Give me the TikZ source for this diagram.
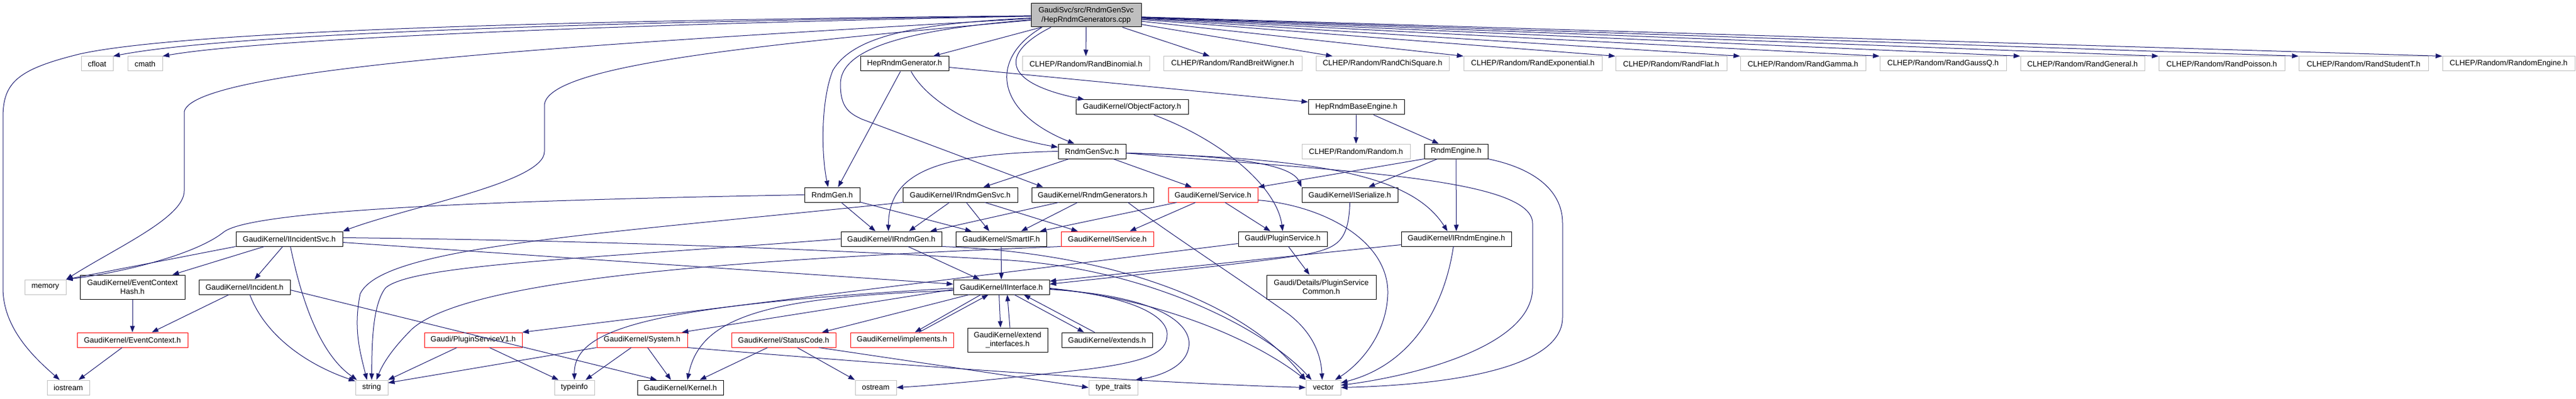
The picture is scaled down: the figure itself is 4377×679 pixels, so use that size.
\documentclass[tikz,border=0pt]{standalone}
\usepackage{fontspec}
\setmainfont{Liberation Sans}
\usetikzlibrary{arrows.meta}
\definecolor{edgeblue}{HTML}{191970}
\definecolor{lgray}{HTML}{BFBFBF}
\definecolor{bred}{HTML}{FF0000}
\begin{document}
\begin{tikzpicture}[x=1pt,y=-1pt,
  every node/.style={font=\fontsize{13}{15.3}\selectfont},
  nb/.style={draw=black, line width=1pt, minimum height=25pt, inner sep=0pt, align=center, fill=white},
  gb/.style={nb, draw=lgray},
  rb/.style={nb, draw=bred},
  tall/.style={minimum height=41pt},
  wd/.style={minimum width=#1},
  edge/.style={draw=edgeblue, line width=1pt, -{Triangle[length=11pt,width=8pt]}},
]
\fill[white] (0,0) rectangle (4377,679);
\useasboundingbox (0,0) rectangle (4377,679);

% ---------- nodes ----------
\node[nb, wd=187pt, minimum height=40pt, fill=lgray] (root) at (1845.5,26) {GaudiSvc/src/RndmGenSvc\\/HepRndmGenerators.cpp};
% row 1
\node[gb, wd=54pt] (cfloat) at (165,108.5) {cfloat};
\node[gb, wd=59pt] (cmath) at (246.5,108.5) {cmath};
\node[nb, wd=150pt] (HRG) at (1537,108.5) {HepRndmGenerator.h};
\node[gb, wd=216pt] (RBin) at (1845,108.5) {CLHEP/Random/RandBinomial.h};
\node[gb, wd=235pt] (RBW) at (2094.5,108.5) {CLHEP/Random/RandBreitWigner.h};
\node[gb, wd=226pt] (RChi) at (2349,108.5) {CLHEP/Random/RandChiSquare.h};
\node[gb, wd=235pt] (RExp) at (2604.5,108.5) {CLHEP/Random/RandExponential.h};
\node[gb, wd=189pt] (RFlat) at (2839.5,108.5) {CLHEP/Random/RandFlat.h};
\node[gb, wd=213pt] (RGam) at (3063.5,108.5) {CLHEP/Random/RandGamma.h};
\node[gb, wd=215pt] (RGQ) at (3301.5,108.5) {CLHEP/Random/RandGaussQ.h};
\node[gb, wd=211pt] (RGen) at (3538.5,108.5) {CLHEP/Random/RandGeneral.h};
\node[gb, wd=214pt] (RPoi) at (3775,108.5) {CLHEP/Random/RandPoisson.h};
\node[gb, wd=220pt] (RStu) at (4016,108.5) {CLHEP/Random/RandStudentT.h};
\node[gb, wd=225pt] (REng) at (4262.5,108.5) {CLHEP/Random/RandomEngine.h};
% row 2
\node[nb, wd=191pt] (OF) at (1923.5,182.5) {GaudiKernel/ObjectFactory.h};
\node[nb, wd=163pt] (HRBE) at (2304.5,182.5) {HepRndmBaseEngine.h};
% row 3
\node[nb, wd=115pt] (RGS) at (1855.5,257.5) {RndmGenSvc.h};
\node[gb, wd=184pt] (Random) at (2304,257.5) {CLHEP/Random/Random.h};
\node[nb, wd=108pt] (RE) at (2474,257.5) {RndmEngine.h};
% row 4
\node[nb, wd=94pt] (RG) at (1414,331.5) {RndmGen.h};
\node[nb, wd=195pt] (IRGS) at (1631.5,331.5) {GaudiKernel/IRndmGenSvc.h};
\node[nb, wd=207pt] (RGens) at (1856.5,331.5) {GaudiKernel/RndmGenerators.h};
\node[rb, wd=152pt] (Svc) at (2061,331.5) {GaudiKernel/Service.h};
\node[nb, wd=163pt] (ISer) at (2293.5,331.5) {GaudiKernel/ISerialize.h};
% row 5
\node[nb, wd=181pt] (IIS) at (491.5,406.5) {GaudiKernel/IIncidentSvc.h};
\node[nb, wd=171pt] (IRG) at (1514.5,406.5) {GaudiKernel/IRndmGen.h};
\node[nb, wd=154pt] (SIF) at (1701,406.5) {GaudiKernel/SmartIF.h};
\node[rb, wd=157pt] (ISvc) at (1881.5,406.5) {GaudiKernel/IService.h};
\node[nb, wd=151pt] (PS) at (2179.5,406.5) {Gaudi/PluginService.h};
\node[nb, wd=187pt] (IRE) at (2474.5,406.5) {GaudiKernel/IRndmEngine.h};
% row 6
\node[gb, wd=70pt] (memory) at (77,488.5) {memory};
\node[nb, wd=178pt, tall] (ECH) at (225,488.5) {GaudiKernel/EventContext\\Hash.h};
\node[nb, wd=155pt] (Inc) at (415.5,488.5) {GaudiKernel/Incident.h};
\node[nb, wd=163pt] (II) at (1701.5,488.5) {GaudiKernel/IInterface.h};
\node[nb, wd=186pt, tall] (PSC) at (2245,488.5) {Gaudi/Details/PluginService\\Common.h};
% row 7
\node[rb, wd=188pt] (EC) at (225,578.5) {GaudiKernel/EventContext.h};
\node[rb, wd=166pt] (PSV1) at (804,578.5) {Gaudi/PluginServiceV1.h};
\node[rb, wd=154pt] (Sys) at (1091,578.5) {GaudiKernel/System.h};
\node[rb, wd=177pt] (SC) at (1331.5,578.5) {GaudiKernel/StatusCode.h};
\node[rb, wd=175pt] (impl) at (1532.5,578.5) {GaudiKernel/implements.h};
\node[nb, wd=136pt, tall] (extif) at (1712,578.5) {GaudiKernel/extend\\\_interfaces.h};
\node[nb, wd=154pt] (ext) at (1881,578.5) {GaudiKernel/extends.h};
% row 8
\node[gb, wd=72pt] (iostream) at (116,659.5) {iostream};
\node[gb, wd=55pt] (string) at (631.5,659.5) {string};
\node[gb, wd=68pt] (typeinfo) at (976,659.5) {typeinfo};
\node[nb, wd=146pt] (Kernel) at (1156,659.5) {GaudiKernel/Kernel.h};
\node[gb, wd=70pt] (ostream) at (1488,659.5) {ostream};
\node[gb, wd=83pt] (typetraits) at (1891.5,659.5) {type\_traits};
\node[gb, wd=59pt] (vector) at (2248.5,659.5) {vector};

% ---------- edges from root ----------
\draw[edge] (root) .. controls (900,35) and (300,55) .. (135,92) .. controls (30,118) and (5,140) .. (5,200) -- (5,490) .. controls (5,560) and (60,610) .. (iostream);
\draw[edge] (root) .. controls (1100,36) and (400,55) .. (cfloat.north east);
\draw[edge] (root) .. controls (1100,40) and (450,65) .. (cmath.north east);
\draw[edge] (root) .. controls (1100,70) and (330,110) .. (313,190) -- (313,325) .. controls (313,370) and (200,420) .. (memory.north east);
\draw[edge] (root) .. controls (1300,75) and (925,110) .. (925,180) -- (925,258) .. controls (925,310) and (700,350) .. (IIS.north east);
\draw[edge] (root) -- (HRG);
\draw[edge] (root) -- (RBin);
\draw[edge] (root) -- (RBW);
\draw[edge] (root) -- ([xshift=-85pt]RChi.north);
\draw[edge] (root) -- (RExp.north west);
\draw[edge] (root) -- (RFlat.north west);
\draw[edge] (root) -- (RGam.north west);
\draw[edge] (root) -- (RGQ.north west);
\draw[edge] (root) -- (RGen.north west);
\draw[edge] (root) -- (RPoi.north west);
\draw[edge] (root) -- (RStu.north west);
\draw[edge] (root) -- (REng.north west);
\draw[edge] ([xshift=-60pt]root.south) .. controls (1700,90) and (1700,140) .. ([xshift=-81pt]OF.north);
\draw[edge] ([xshift=-75pt]root.south) .. controls (1680,100) and (1690,190) .. ([xshift=-30pt]RGS.north);
\draw[edge] (root) .. controls (1560,40) and (1450,60) .. (1415,120) .. controls (1395,170) and (1395,260) .. ([xshift=-7pt]RG.north);
\draw[edge] (root) .. controls (1550,50) and (1428,80) .. (1428,143) .. controls (1428,180) and (1440,192) .. (1465,203) -- ([xshift=-84pt]RGens.north);

% ---------- second level ----------
\draw[edge] (HRG) -- ([xshift=10pt]RG.north);
\draw[edge] ([xshift=11pt]HRG.south) .. controls (1580,180) and (1680,230) .. ([yshift=7pt]RGS.west);
\draw[edge] ([yshift=-6pt]HRG.east) -- ([yshift=9pt]HRBE.west);
\draw[edge] ([xshift=37pt]OF.south) .. controls (2080,240) and (2170,320) .. (PS.north);
\draw[edge] (HRBE) -- (Random);
\draw[edge] (HRBE) -- (RE);
\draw[edge] (RE) -- (ISer);
\draw[edge] (RE) -- (IRE);
\draw[edge] (RE.south west) -- (Svc.north east);
\draw[edge] (RE.south east) .. controls (2600,285) and (2655,320) .. (2655,380) -- (2655,540) .. controls (2655,630) and (2450,655) .. (vector.east);

\draw[edge] (RGS.west) .. controls (1600,262) and (1510,290) .. ([xshift=-5pt]IRG.north);
\draw[edge] (RGS) -- (IRGS);
\draw[edge] (RGS) -- (Svc);
\draw[edge] ([yshift=-3pt]RGS.east) .. controls (2100,265) and (2195,280) .. (ISer.north west);
\draw[edge] ([yshift=-3pt]RGS.east) .. controls (2250,270) and (2400,300) .. ([xshift=-15pt]IRE.north);
\draw[edge] ([yshift=-3pt]RGS.east) .. controls (2250,290) and (2604,300) .. (2604,380) -- (2604,490) .. controls (2604,590) and (2400,640) .. ([yshift=4pt]vector.east);

\draw[edge] (RG.west) .. controls (900,340) and (430,355) .. (380,395) .. controls (330,435) and (200,465) .. (memory.north east);
\draw[edge] (RG) -- ([xshift=-27pt]IRG.north);
\draw[edge] (RG) -- ([xshift=-50pt]SIF.north);
\draw[edge] (IRGS) -- ([xshift=30pt]IRG.north);
\draw[edge] (IRGS) -- ([xshift=-20pt]SIF.north);
\draw[edge] (IRGS) -- ([xshift=-50pt]ISvc.north);
\draw[edge] (IRGS.south west) .. controls (1000,400) and (650,420) .. (612,500) .. controls (600,560) and (612,600) .. ([xshift=-8pt]string.north);
\draw[edge] (RGens) -- ([xshift=66pt]IRG.north);
\draw[edge] (RGens) -- ([xshift=34pt]SIF.north);
\draw[edge] ([xshift=60pt]RGens.south) .. controls (1990,400) and (2100,470) .. (2190,535) .. controls (2235,570) and (2245,610) .. ([xshift=-2pt]vector.north);
\draw[edge] (Svc) -- ([xshift=66pt]SIF.north);
\draw[edge] (Svc) -- ([xshift=38pt]ISvc.north);
\draw[edge] (Svc) -- ([xshift=-21pt]PS.north);
\draw[edge] ([yshift=-9pt]Svc.east) .. controls (2250,350) and (2360,410) .. (2358,500) .. controls (2356,570) and (2310,620) .. ([xshift=20pt]vector.north);
\draw[edge] (ISer.south) .. controls (2292,405) and (2275,418) .. (2240,428) .. controls (2200,440) and (2000,460) .. ([yshift=5pt]II.east);

% ---------- IIncidentSvc ----------
\draw[edge] (IIS.south west) -- (memory.north east);
\draw[edge] (IIS) -- ([xshift=68pt]ECH.north);
\draw[edge] (IIS) -- ([xshift=17pt]Inc.north);
\draw[edge] ([xshift=2pt]IIS.south) .. controls (510,500) and (540,600) .. ([xshift=3pt]string.north west);
\draw[edge] ([yshift=-6pt]IIS.east) -- ([yshift=5pt]II.west);
\draw[edge] ([yshift=2pt]IIS.east) .. controls (1100,410) and (1500,430) .. (1700,442) .. controls (1950,455) and (2150,560) .. ([xshift=-20pt]vector.north);

% ---------- row 5 ----------
\draw[edge] (IRG.west) .. controls (1000,440) and (700,450) .. (655,490) .. controls (632,520) and (632,590) .. (string.north);
\draw[edge] (IRG) -- ([xshift=-37pt]II.north);
\draw[edge] (IRG.south east) .. controls (1900,430) and (2120,520) .. (vector.north west);
\draw[edge] (SIF) -- (II);
\draw[edge] ([yshift=-10pt]IRE.west) -- ([yshift=10pt]II.east);
\draw[edge] ([xshift=-5pt]IRE.south) .. controls (2455,520) and (2400,620) .. ([yshift=8pt]vector.east);
\draw[edge] (ISvc.south west) .. controls (1300,440) and (800,470) .. (700,560) .. controls (665,595) and (650,620) .. ([xshift=8pt]string.north);
\draw[edge] ([yshift=-8pt]PS.west) -- (PSV1.north east);
\draw[edge] (PS) -- ([xshift=-20pt]PSC.north);

% ---------- row 6 ----------
\draw[edge] (Inc) -- ([xshift=33pt]EC.north);
\draw[edge] ([xshift=9pt]Inc.south) .. controls (450,570) and (520,620) .. ([yshift=-2pt]string.north west);
\draw[edge] ([yshift=-5pt]Inc.east) -- ([xshift=-40pt]Kernel.north);
\draw[edge] (ECH) -- (EC);
\draw[edge] (EC) -- (iostream);

% IInterface
\draw[edge] ([yshift=-4pt]II.west) -- ([xshift=-10pt]Sys.north east);
\draw[edge] ([xshift=-55pt]II.south) -- ([xshift=-24pt]SC.north east);
\draw[edge] ([yshift=-2pt]II.west) .. controls (1100,520) and (975,560) .. (typeinfo.north);
\draw[edge] ([yshift=-6pt]II.west) .. controls (1300,505) and (1190,540) .. ([xshift=12pt]Kernel.north);
\draw[edge] ([yshift=-2pt]II.east) .. controls (1930,505) and (1985,540) .. (1983,570) .. controls (1983,600) and (1950,615) .. (1850,628) .. controls (1700,645) and (1600,655) .. (ostream.east);
\draw[edge] ([yshift=-4pt]II.east) .. controls (1990,505) and (2025,560) .. (2020,590) .. controls (2015,625) and (1970,640) .. ([xshift=-4pt]typetraits.north east);
\draw[edge] ([yshift=-3pt]II.east) .. controls (1950,505) and (2120,570) .. (vector.north west);
\draw[edge] ([xshift=-35pt]II.south) -- ([xshift=22pt]impl.north);
\draw[edge] ([xshift=29pt]impl.north) -- ([xshift=-22pt]II.south);
\draw[edge] ([xshift=-4pt]II.south) -- ([xshift=-12pt]extif.north);
\draw[edge] ([xshift=4pt]extif.north) -- ([xshift=10pt]II.south);
\draw[edge] ([xshift=22pt]II.south) -- ([xshift=-39pt]ext.north);
\draw[edge] ([xshift=-21pt]ext.north) -- ([xshift=38pt]II.south);

% ---------- row 7 ----------
\draw[edge] (PSV1) -- (string.north east);
\draw[edge] (PSV1) -- ([xshift=-27pt]typeinfo.north);
\draw[edge] (Sys.south west) -- ([yshift=8pt]string.east);
\draw[edge] (Sys) -- ([xshift=19pt]typeinfo.north);
\draw[edge] (Sys) -- ([xshift=-16pt]Kernel.north);
\draw[edge] (Sys.south east) .. controls (1450,615) and (1900,650) .. (vector.west);
\draw[edge] (SC) -- ([xshift=33pt]Kernel.north);
\draw[edge] (SC) -- (ostream.north west);
\draw[edge] ([xshift=60pt]SC.south) -- (typetraits.west);
\end{tikzpicture}
\end{document}
